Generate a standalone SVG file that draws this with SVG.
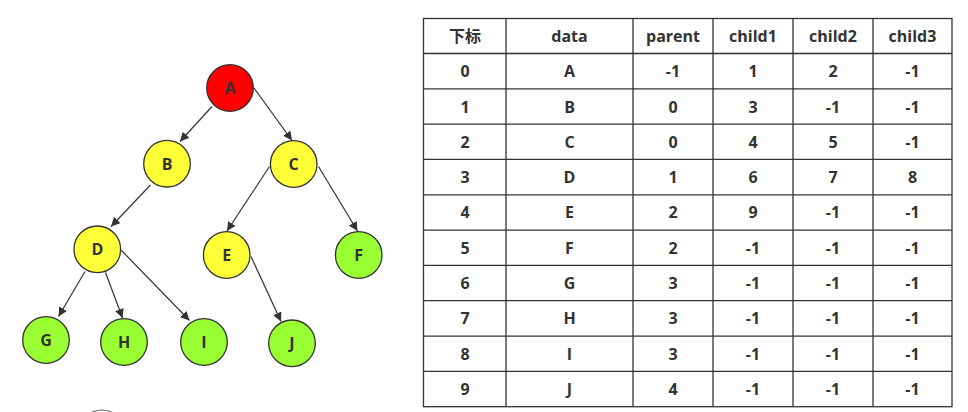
<svg xmlns="http://www.w3.org/2000/svg" width="968" height="412" viewBox="0 0 968 412">
<style>
.n{stroke:#333;stroke-width:1.3}
.red{fill:#ff0000}
.yel{fill:#ffff38}
.grn{fill:#99ff33}
.lbl{font-family:"Open Sans","Noto Sans","Noto Sans CJK SC",sans-serif;font-weight:bold;font-size:16px;fill:#333;text-anchor:middle;dominant-baseline:central}
.e{stroke:#333;stroke-width:1.2;fill:none;marker-end:url(#arr)}
.g{stroke:#333;stroke-width:1.3;fill:none}
.t{font-family:"Open Sans","Noto Sans","Noto Sans CJK SC",sans-serif;font-weight:bold;font-size:16px;fill:#333;text-anchor:middle;dominant-baseline:central}
</style>
<defs>
<marker id="arr" viewBox="0 0 10 10" refX="10" refY="5" markerWidth="9" markerHeight="9" markerUnits="userSpaceOnUse" orient="auto">
<path d="M0,0 L10,5 L0,10 z" fill="#333"/>
</marker>
</defs>
<rect width="968" height="412" fill="#fff"/>
<g id="connectors">
<line class="e" x1="212" y1="106.5" x2="180" y2="141.5"/>
<line class="e" x1="254" y1="88" x2="292" y2="140.5"/>
<line class="e" x1="150.5" y1="185" x2="111" y2="226.5"/>
<line class="e" x1="269.5" y1="166.5" x2="227" y2="231"/>
<line class="e" x1="318.5" y1="166.5" x2="357.5" y2="231"/>
<line class="e" x1="85" y1="271.5" x2="58.5" y2="316.5"/>
<line class="e" x1="105.5" y1="272.5" x2="122.5" y2="318"/>
<line class="e" x1="121.5" y1="250.5" x2="189.5" y2="320.5"/>
<line class="e" x1="251" y1="256.5" x2="281" y2="321.5"/>
</g>
<g id="node-A"><circle class="n red" cx="230" cy="88" r="23.3"/><text class="lbl" x="230" y="88">A</text></g>
<g id="node-B"><circle class="n yel" cx="167" cy="163.7" r="23.3"/><text class="lbl" x="167" y="163.7">B</text></g>
<g id="node-C"><circle class="n yel" cx="293.7" cy="164" r="23.3"/><text class="lbl" x="293.7" y="164">C</text></g>
<g id="node-D"><circle class="n yel" cx="97.3" cy="249.3" r="23.3"/><text class="lbl" x="97.3" y="249.3">D</text></g>
<g id="node-E"><circle class="n yel" cx="226.7" cy="255" r="23.3"/><text class="lbl" x="226.7" y="255">E</text></g>
<g id="node-F"><circle class="n grn" cx="358.7" cy="255" r="23.3"/><text class="lbl" x="358.7" y="255">F</text></g>
<g id="node-G"><circle class="n grn" cx="46" cy="340" r="23.3"/><text class="lbl" x="46" y="340">G</text></g>
<g id="node-H"><circle class="n grn" cx="124" cy="342" r="23.3"/><text class="lbl" x="124" y="342">H</text></g>
<g id="node-I"><circle class="n grn" cx="204" cy="342" r="23.3"/><text class="lbl" x="204" y="342">I</text></g>
<g id="node-J"><circle class="n grn" cx="292" cy="343.3" r="23.3"/><text class="lbl" x="292" y="343.3">J</text></g>
<circle cx="102" cy="433" r="23" fill="none" stroke="#555" stroke-width="1.2"/>
<g id="table">
<rect class="g" x="423.5" y="18.5" width="528.5" height="388.2"/>
<line class="g" x1="506" y1="18.5" x2="506" y2="406.7"/>
<line class="g" x1="633" y1="18.5" x2="633" y2="406.7"/>
<line class="g" x1="713" y1="18.5" x2="713" y2="406.7"/>
<line class="g" x1="793" y1="18.5" x2="793" y2="406.7"/>
<line class="g" x1="873" y1="18.5" x2="873" y2="406.7"/>
<line class="g" x1="423.5" y1="53.5" x2="952" y2="53.5"/>
<line class="g" x1="423.5" y1="88.8" x2="952" y2="88.8"/>
<line class="g" x1="423.5" y1="124.1" x2="952" y2="124.1"/>
<line class="g" x1="423.5" y1="159.4" x2="952" y2="159.4"/>
<line class="g" x1="423.5" y1="194.8" x2="952" y2="194.8"/>
<line class="g" x1="423.5" y1="230.1" x2="952" y2="230.1"/>
<line class="g" x1="423.5" y1="265.4" x2="952" y2="265.4"/>
<line class="g" x1="423.5" y1="300.7" x2="952" y2="300.7"/>
<line class="g" x1="423.5" y1="336.1" x2="952" y2="336.1"/>
<line class="g" x1="423.5" y1="371.4" x2="952" y2="371.4"/>
<g class="t">
<text class="t" x="465" y="36">下标</text><text class="t" x="569.5" y="36">data</text><text class="t" x="673" y="36">parent</text><text class="t" x="753" y="36">child1</text><text class="t" x="833" y="36">child2</text><text class="t" x="912.5" y="36">child3</text>
<text class="t" x="465" y="71.2">0</text><text class="t" x="569.5" y="71.2">A</text><text class="t" x="673" y="71.2">-1</text><text class="t" x="753" y="71.2">1</text><text class="t" x="833" y="71.2">2</text><text class="t" x="912.5" y="71.2">-1</text>
<text class="t" x="465" y="106.5">1</text><text class="t" x="569.5" y="106.5">B</text><text class="t" x="673" y="106.5">0</text><text class="t" x="753" y="106.5">3</text><text class="t" x="833" y="106.5">-1</text><text class="t" x="912.5" y="106.5">-1</text>
<text class="t" x="465" y="141.8">2</text><text class="t" x="569.5" y="141.8">C</text><text class="t" x="673" y="141.8">0</text><text class="t" x="753" y="141.8">4</text><text class="t" x="833" y="141.8">5</text><text class="t" x="912.5" y="141.8">-1</text>
<text class="t" x="465" y="177.1">3</text><text class="t" x="569.5" y="177.1">D</text><text class="t" x="673" y="177.1">1</text><text class="t" x="753" y="177.1">6</text><text class="t" x="833" y="177.1">7</text><text class="t" x="912.5" y="177.1">8</text>
<text class="t" x="465" y="212.4">4</text><text class="t" x="569.5" y="212.4">E</text><text class="t" x="673" y="212.4">2</text><text class="t" x="753" y="212.4">9</text><text class="t" x="833" y="212.4">-1</text><text class="t" x="912.5" y="212.4">-1</text>
<text class="t" x="465" y="247.7">5</text><text class="t" x="569.5" y="247.7">F</text><text class="t" x="673" y="247.7">2</text><text class="t" x="753" y="247.7">-1</text><text class="t" x="833" y="247.7">-1</text><text class="t" x="912.5" y="247.7">-1</text>
<text class="t" x="465" y="283">6</text><text class="t" x="569.5" y="283">G</text><text class="t" x="673" y="283">3</text><text class="t" x="753" y="283">-1</text><text class="t" x="833" y="283">-1</text><text class="t" x="912.5" y="283">-1</text>
<text class="t" x="465" y="318.4">7</text><text class="t" x="569.5" y="318.4">H</text><text class="t" x="673" y="318.4">3</text><text class="t" x="753" y="318.4">-1</text><text class="t" x="833" y="318.4">-1</text><text class="t" x="912.5" y="318.4">-1</text>
<text class="t" x="465" y="353.7">8</text><text class="t" x="569.5" y="353.7">I</text><text class="t" x="673" y="353.7">3</text><text class="t" x="753" y="353.7">-1</text><text class="t" x="833" y="353.7">-1</text><text class="t" x="912.5" y="353.7">-1</text>
<text class="t" x="465" y="389">9</text><text class="t" x="569.5" y="389">J</text><text class="t" x="673" y="389">4</text><text class="t" x="753" y="389">-1</text><text class="t" x="833" y="389">-1</text><text class="t" x="912.5" y="389">-1</text>
</g>
</g>
</svg>
